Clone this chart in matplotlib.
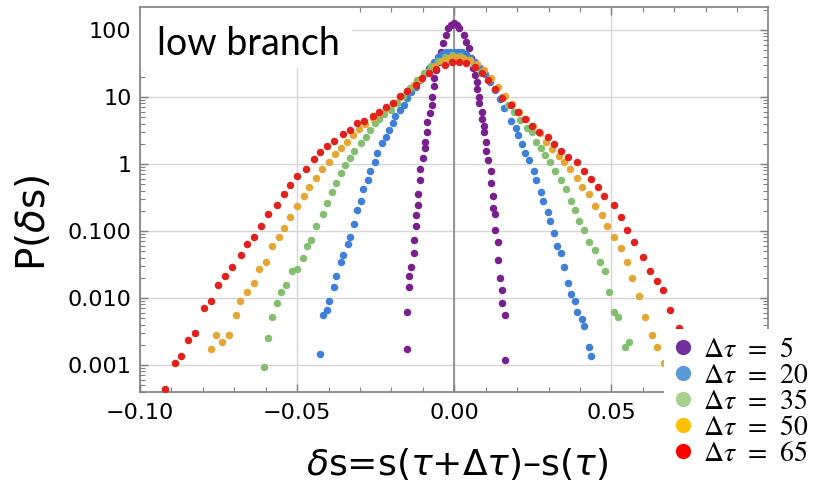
import numpy as np
import matplotlib
matplotlib.use('Agg')
import matplotlib.pyplot as plt
from matplotlib.lines import Line2D
from matplotlib.patches import Rectangle
from matplotlib.ticker import MultipleLocator, LogLocator, NullFormatter
from matplotlib.font_manager import FontProperties

# delta s (x) and log10 P(delta s), one pair per delta tau
x_dt5 = [-0.0151, -0.0151, -0.0144, -0.0144, -0.0137, -0.0129, -0.0129, -0.0123, -0.0123, -0.0115,
         -0.0115, -0.0108, -0.0108, -0.0100, -0.0093, -0.0093, -0.0086, -0.0086, -0.0078, -0.0071,
         -0.0071, -0.0065, -0.0065, -0.0057, -0.0050, -0.0042, -0.0035, -0.0027, -0.0020, -0.0011,
         0.0000, 0.0009, 0.0016, 0.0031, 0.0038, 0.0046, 0.0053, 0.0060, 0.0066, 0.0073,
         0.0073, 0.0080, 0.0080, 0.0087, 0.0087, 0.0094, 0.0094, 0.0101, 0.0101, 0.0108,
         0.0116, 0.0116, 0.0123, 0.0123, 0.0130, 0.0130, 0.0138, 0.0138, 0.0145, 0.0153,
         0.0153, 0.0160, 0.0160]
lp_dt5 = [-2.761, -2.213, -1.840, -1.672, -1.537, -1.333, -1.130, -0.925, -0.757, -0.616,
          -0.448, -0.243, -0.075, 0.094, 0.234, 0.333, 0.473, 0.631, 0.757, 0.881,
          1.004, 1.169, 1.279, 1.403, 1.527, 1.676, 1.801, 1.925, 2.025, 2.075,
          2.100, 2.075, 2.025, 1.925, 1.825, 1.727, 1.582, 1.428, 1.328, 1.228,
          1.119, 1.004, 0.906, 0.772, 0.672, 0.572, 0.473, 0.333, 0.199, 0.064,
          -0.104, -0.279, -0.482, -0.652, -0.751, -0.990, -1.164, -1.433, -1.706, -1.876,
          -2.079, -2.249, -2.930]

x_dt20 = [-0.0426, -0.0418, -0.0405, -0.0398, -0.0384, -0.0375, -0.0361, -0.0354, -0.0339, -0.0332,
          -0.0318, -0.0310, -0.0296, -0.0289, -0.0274, -0.0267, -0.0252, -0.0245, -0.0231, -0.0216,
          -0.0209, -0.0195, -0.0188, -0.0173, -0.0159, -0.0151, -0.0137, -0.0123, -0.0108, -0.0094,
          -0.0080, -0.0065, -0.0052, -0.0039, -0.0026, -0.0014, -0.0001, 0.0012, 0.0024, 0.0037,
          0.0050, 0.0066, 0.0082, 0.0098, 0.0114, 0.0129, 0.0145, 0.0159, 0.0180, 0.0195,
          0.0203, 0.0216, 0.0224, 0.0239, 0.0253, 0.0261, 0.0275, 0.0283, 0.0297, 0.0304,
          0.0318, 0.0326, 0.0340, 0.0348, 0.0363, 0.0370, 0.0385, 0.0391, 0.0406, 0.0413,
          0.0427, 0.0435]
lp_dt20 = [-2.831, -2.249, -2.184, -2.045, -1.840, -1.672, -1.467, -1.363, -1.194, -1.090,
           -0.891, -0.687, -0.548, -0.378, -0.243, -0.109, 0.034, 0.169, 0.309, 0.407,
           0.507, 0.607, 0.712, 0.810, 0.881, 0.981, 1.075, 1.154, 1.254, 1.354,
           1.428, 1.522, 1.597, 1.642, 1.664, 1.672, 1.672, 1.672, 1.664, 1.642,
           1.582, 1.522, 1.433, 1.343, 1.224, 1.104, 0.970, 0.840, 0.642, 0.542,
           0.437, 0.299, 0.164, 0.060, -0.109, -0.243, -0.413, -0.552, -0.719, -0.855,
           -1.025, -1.228, -1.333, -1.537, -1.772, -1.945, -2.045, -2.213, -2.318, -2.418,
           -2.727, -2.861]

x_dt35 = [-0.0607, -0.0593, -0.0579, -0.0564, -0.0550, -0.0535, -0.0515, -0.0499, -0.0483, -0.0469,
          -0.0455, -0.0441, -0.0418, -0.0404, -0.0390, -0.0375, -0.0360, -0.0347, -0.0332, -0.0318,
          -0.0296, -0.0282, -0.0267, -0.0252, -0.0239, -0.0224, -0.0202, -0.0182, -0.0163, -0.0141,
          -0.0119, -0.0096, -0.0074, -0.0052, -0.0030, -0.0007, 0.0018, 0.0040, 0.0063, 0.0085,
          0.0107, 0.0129, 0.0152, 0.0171, 0.0190, 0.0209, 0.0230, 0.0246, 0.0260, 0.0275,
          0.0289, 0.0304, 0.0319, 0.0340, 0.0355, 0.0370, 0.0384, 0.0398, 0.0412, 0.0427,
          0.0449, 0.0464, 0.0478, 0.0493, 0.0507, 0.0522, 0.0543, 0.0557]
lp_dt35 = [-3.030, -2.593, -2.284, -2.079, -1.910, -1.806, -1.604, -1.570, -1.399, -1.228,
           -1.128, -0.925, -0.751, -0.587, -0.413, -0.279, -0.139, -0.015, 0.094, 0.199,
           0.309, 0.407, 0.507, 0.607, 0.672, 0.742, 0.810, 0.910, 1.015, 1.134,
           1.254, 1.358, 1.463, 1.537, 1.597, 1.627, 1.612, 1.552, 1.478, 1.373,
           1.254, 1.119, 1.000, 0.881, 0.776, 0.657, 0.533, 0.473, 0.333, 0.234,
           0.130, 0.025, -0.104, -0.243, -0.378, -0.552, -0.687, -0.855, -0.990, -1.160,
           -1.291, -1.467, -1.601, -1.910, -2.213, -2.284, -2.727, -2.657]

x_dt50 = [-0.0774, -0.0759, -0.0738, -0.0716, -0.0694, -0.0681, -0.0658, -0.0636, -0.0622, -0.0600,
          -0.0579, -0.0557, -0.0543, -0.0522, -0.0499, -0.0477, -0.0463, -0.0441, -0.0420, -0.0398,
          -0.0379, -0.0360, -0.0340, -0.0322, -0.0303, -0.0283, -0.0259, -0.0239, -0.0217, -0.0195,
          -0.0173, -0.0150, -0.0128, -0.0106, -0.0084, -0.0061, -0.0039, -0.0017, 0.0005, 0.0028,
          0.0050, 0.0072, 0.0094, 0.0117, 0.0139, 0.0161, 0.0183, 0.0206, 0.0228, 0.0250,
          0.0273, 0.0292, 0.0312, 0.0333, 0.0348, 0.0369, 0.0391, 0.0406, 0.0427, 0.0448,
          0.0471, 0.0485, 0.0507, 0.0529, 0.0550, 0.0565, 0.0586, 0.0607, 0.0630, 0.0645,
          0.0666]
lp_dt50 = [-2.757, -2.552, -2.657, -2.552, -2.249, -2.045, -1.910, -1.772, -1.567, -1.467,
           -1.228, -1.094, -0.960, -0.787, -0.622, -0.482, -0.348, -0.209, -0.075, 0.025,
           0.149, 0.239, 0.333, 0.433, 0.518, 0.601, 0.682, 0.757, 0.828, 0.910,
           1.000, 1.090, 1.179, 1.269, 1.373, 1.463, 1.537, 1.582, 1.597, 1.582,
           1.552, 1.493, 1.403, 1.284, 1.149, 1.015, 0.896, 0.776, 0.672, 0.567,
           0.463, 0.333, 0.224, 0.124, 0.025, -0.075, -0.213, -0.348, -0.448, -0.622,
           -0.757, -0.925, -1.094, -1.258, -1.467, -1.706, -1.978, -2.284, -2.557, -2.727,
           -2.966]

x_dt65 = [-0.0920, -0.0890, -0.0868, -0.0846, -0.0824, -0.0795, -0.0774, -0.0752, -0.0730, -0.0708,
          -0.0679, -0.0658, -0.0636, -0.0615, -0.0593, -0.0565, -0.0543, -0.0522, -0.0499, -0.0471,
          -0.0448, -0.0426, -0.0404, -0.0383, -0.0354, -0.0332, -0.0310, -0.0288, -0.0259, -0.0239,
          -0.0217, -0.0195, -0.0174, -0.0151, -0.0123, -0.0102, -0.0080, -0.0057, -0.0029, -0.0006,
          0.0015, 0.0037, 0.0066, 0.0087, 0.0108, 0.0129, 0.0153, 0.0180, 0.0204, 0.0225,
          0.0247, 0.0268, 0.0297, 0.0318, 0.0340, 0.0362, 0.0390, 0.0412, 0.0435, 0.0456,
          0.0477, 0.0507, 0.0529, 0.0550, 0.0571, 0.0600, 0.0622, 0.0645, 0.0665, 0.0687,
          0.0716]
lp_dt65 = [-3.363, -2.966, -2.861, -2.622, -2.518, -2.149, -2.045, -1.806, -1.672, -1.533,
           -1.363, -1.194, -1.094, -0.921, -0.751, -0.616, -0.448, -0.313, -0.175, -0.075,
           0.070, 0.175, 0.273, 0.339, 0.443, 0.507, 0.612, 0.646, 0.712, 0.781,
           0.846, 0.910, 1.015, 1.085, 1.184, 1.284, 1.354, 1.422, 1.482, 1.527,
           1.527, 1.503, 1.452, 1.363, 1.254, 1.115, 0.981, 0.881, 0.781, 0.676,
           0.572, 0.473, 0.403, 0.299, 0.199, 0.100, 0.025, -0.109, -0.224, -0.348,
           -0.482, -0.619, -0.788, -0.993, -1.164, -1.393, -1.601, -1.742, -1.876, -2.179,
           -2.452]

series_x = [x_dt5, x_dt20, x_dt35, x_dt50, x_dt65]
series_lp = [lp_dt5, lp_dt20, lp_dt35, lp_dt50, lp_dt65]
dt_labels = ['5', '20', '35', '50', '65']
dot_colors = ['#7a1f8e', '#3d7fd9', '#84bf6f', '#e6a634', '#e2201c']
key_colors = ['#7030a0', '#5b9bd5', '#a9d18e', '#ffc000', '#ff0000']

xticks = [-0.10, -0.05, 0.0, 0.05]
xtick_labels = ['\u22120.10', '\u22120.05', '0.00', '0.05']
yticks = [1e-3, 1e-2, 1e-1, 1, 10, 100]
ytick_labels = ['0.001', '0.010', '0.100', '1', '10', '100']

plt.rcParams['font.family'] = ['DejaVu Sans']
plt.rcParams['mathtext.fontset'] = 'dejavusans'

W, H = 821, 490
fig = plt.figure(figsize=(W / 100, H / 100), dpi=100)
ax = fig.add_axes([140 / W, 1 - 392 / H, 628 / W, 385 / H])

for xs, lp, c in zip(series_x, series_lp, dot_colors):
    ax.plot(xs, 10 ** np.array(lp), 'o', ms=5.4, mew=0, color=c, zorder=3, clip_on=True)

ax.set_yscale('log')
ax.set_xlim(-0.1, 0.0998)
ax.set_ylim(3.95e-4, 220)

ax.set_xticks(xticks)
ax.set_xticklabels(xtick_labels)
ax.xaxis.set_minor_locator(MultipleLocator(0.01))
ax.set_yticks(yticks)
ax.set_yticklabels(ytick_labels)
ax.yaxis.set_minor_locator(LogLocator(base=10, subs=np.arange(2, 10)))
ax.yaxis.set_minor_formatter(NullFormatter())

ax.tick_params(which='both', direction='in', top=True, right=True,
               color='#808080', labelcolor='black', labelsize=16)
ax.tick_params(which='major', length=6, width=1)
ax.tick_params(which='minor', length=3.5, width=0.8)
ax.tick_params(axis='x', pad=8)
ax.tick_params(axis='y', pad=6)
for sp in ax.spines.values():
    sp.set_color('#808080')
    sp.set_linewidth(1.2)

ax.set_axisbelow(True)
ax.grid(which='major', color='#d6d6d6', lw=1)
ax.axvline(0, color='#808080', lw=1.1, zorder=1)

# white patch behind the panel title
ax.add_patch(Rectangle((0, 0.8416), 0.3376, 0.1584, transform=ax.transAxes,
                       facecolor='white', edgecolor='none', zorder=1.5))
fig.text(157 / W, 1 - 55 / H, 'low branch', family='Lato', fontsize=27,
         va='baseline', ha='left')

fig.text(457 / W, 1 - 464 / H, r'$\delta$s=s($\tau$+Δ$\tau$)–s($\tau$)',
         fontsize=26, ha='center', va='center')
fig.text(33 / W, 1 - 223 / H, r'P($\delta$s)', fontsize=28, rotation=90,
         ha='center', va='center')

handles = [Line2D([], [], marker='o', ls='', ms=11, mew=0, color=c) for c in key_colors]
labels = [r'$\Delta\tau\;\,=\;\,%s$' % s for s in dt_labels]
leg = fig.legend(handles, labels, loc='upper left', bbox_to_anchor=(664 / W, 1 - 329 / H),
                 frameon=True, facecolor='white', edgecolor='none', framealpha=1,
                 fancybox=False, borderpad=0.2, labelspacing=-0.07, handletextpad=0.25,
                 handlelength=0.95, borderaxespad=0,
                 prop=FontProperties(size=20, math_fontfamily='stix'))

fig.savefig('out.png', dpi=100)
